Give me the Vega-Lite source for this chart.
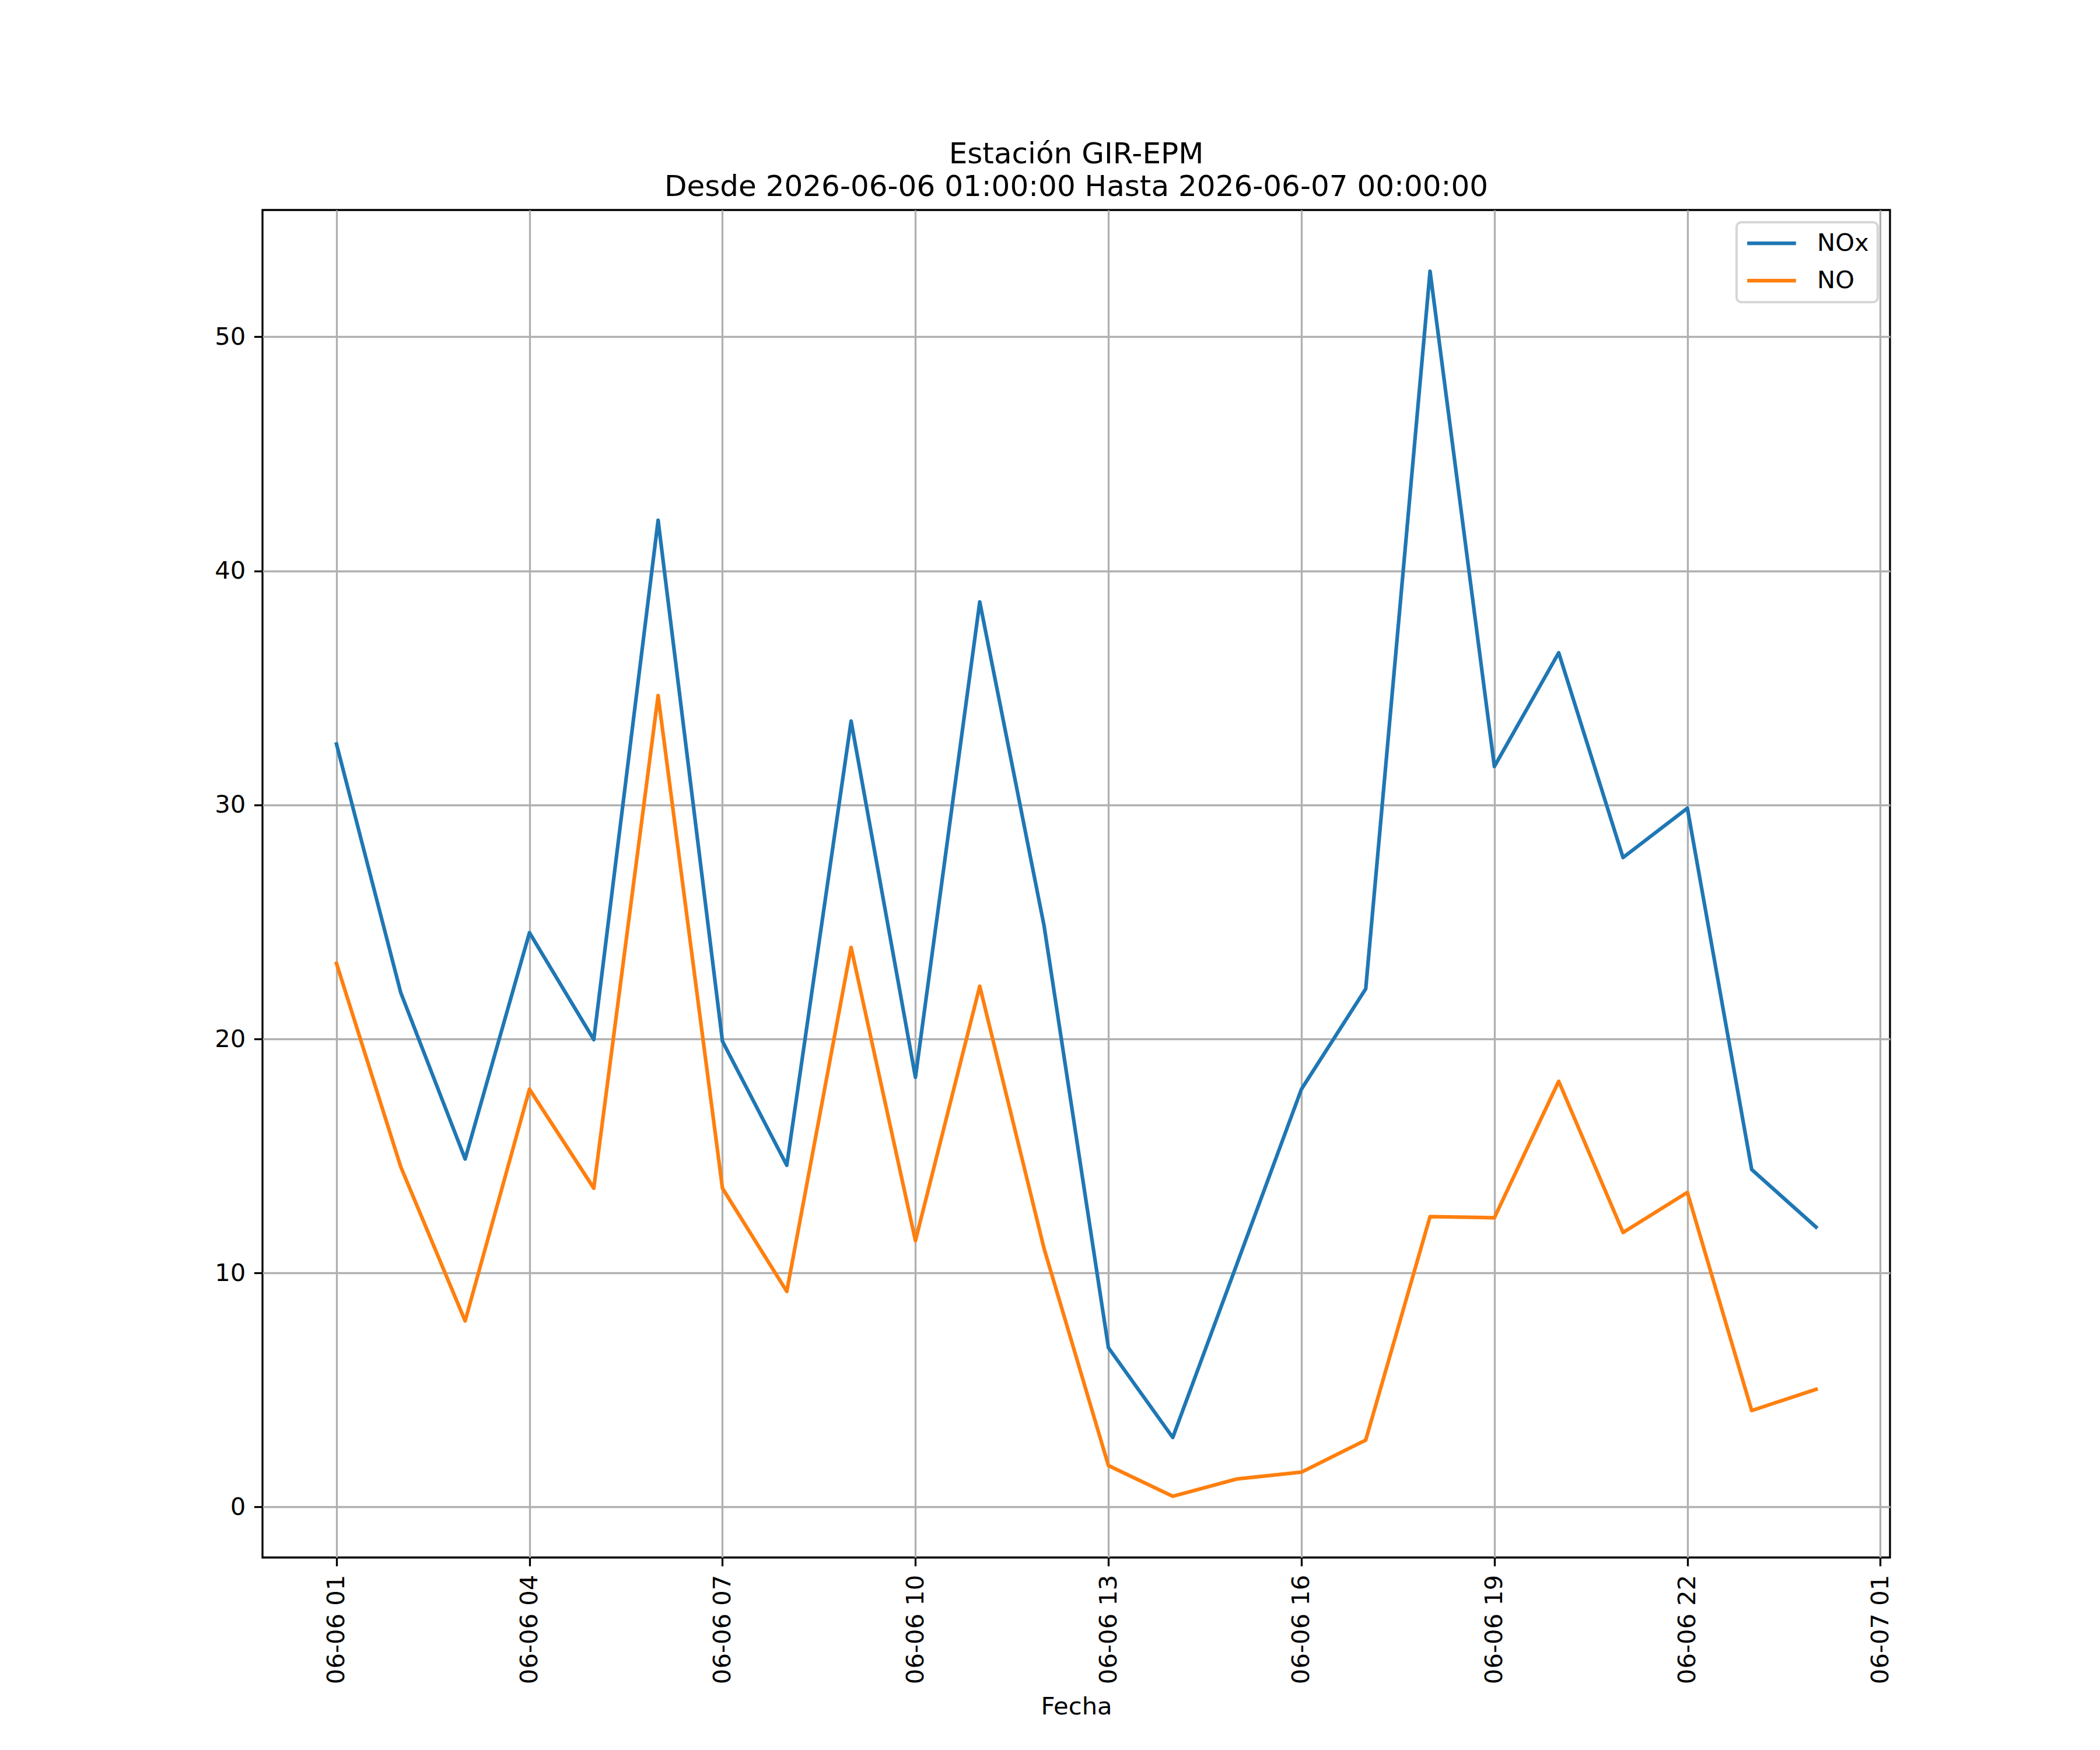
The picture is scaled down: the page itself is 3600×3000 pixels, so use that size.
{
  "$schema": "https://vega.github.io/schema/vega-lite/v6.json",
  "width": 2790,
  "height": 2310,
  "autosize": {"type": "none"},
  "padding": {"left": 450, "top": 360, "right": 360, "bottom": 330},
  "background": "white",
  "title": {
    "text": ["Estación GIR-EPM", "Desde 2026-06-06 01:00:00 Hasta 2026-06-07 00:00:00"],
    "font": "DejaVu Sans",
    "fontSize": 50,
    "fontWeight": "normal",
    "color": "black",
    "anchor": "middle",
    "frame": "group",
    "baseline": "bottom",
    "lineHeight": 56,
    "offset": -36
  },
  "config": {
    "font": "DejaVu Sans",
    "view": {"stroke": "black", "strokeWidth": 3.3},
    "axis": {
      "domain": false,
      "grid": true,
      "gridColor": "#b0b0b0",
      "gridWidth": 3.3,
      "gridOpacity": 1,
      "ticks": true,
      "tickColor": "black",
      "tickSize": 14.6,
      "tickWidth": 3.3,
      "labelFont": "DejaVu Sans",
      "labelFontSize": 41.7,
      "labelColor": "black",
      "labelPadding": 14.6,
      "labelLimit": 0,
      "titleFont": "DejaVu Sans",
      "titleFontSize": 41.7,
      "titleFontWeight": "normal",
      "titleColor": "black"
    },
    "legend": {
      "labelFont": "DejaVu Sans",
      "labelFontSize": 41.7,
      "labelColor": "black"
    }
  },
  "data": {
    "values": [
      {"t": "2026-06-06T01:00:00Z", "serie": "NOx", "valor": 32.6},
      {"t": "2026-06-06T02:00:00Z", "serie": "NOx", "valor": 21.97},
      {"t": "2026-06-06T03:00:00Z", "serie": "NOx", "valor": 14.87},
      {"t": "2026-06-06T04:00:00Z", "serie": "NOx", "valor": 24.54},
      {"t": "2026-06-06T05:00:00Z", "serie": "NOx", "valor": 19.97},
      {"t": "2026-06-06T06:00:00Z", "serie": "NOx", "valor": 42.16},
      {"t": "2026-06-06T07:00:00Z", "serie": "NOx", "valor": 19.9},
      {"t": "2026-06-06T08:00:00Z", "serie": "NOx", "valor": 14.6},
      {"t": "2026-06-06T09:00:00Z", "serie": "NOx", "valor": 33.58},
      {"t": "2026-06-06T10:00:00Z", "serie": "NOx", "valor": 18.36},
      {"t": "2026-06-06T11:00:00Z", "serie": "NOx", "valor": 38.67},
      {"t": "2026-06-06T12:00:00Z", "serie": "NOx", "valor": 24.83},
      {"t": "2026-06-06T13:00:00Z", "serie": "NOx", "valor": 6.81},
      {"t": "2026-06-06T14:00:00Z", "serie": "NOx", "valor": 2.97},
      {"t": "2026-06-06T15:00:00Z", "serie": "NOx", "valor": 10.4},
      {"t": "2026-06-06T16:00:00Z", "serie": "NOx", "valor": 17.85},
      {"t": "2026-06-06T17:00:00Z", "serie": "NOx", "valor": 22.14},
      {"t": "2026-06-06T18:00:00Z", "serie": "NOx", "valor": 52.8},
      {"t": "2026-06-06T19:00:00Z", "serie": "NOx", "valor": 31.64},
      {"t": "2026-06-06T20:00:00Z", "serie": "NOx", "valor": 36.5},
      {"t": "2026-06-06T21:00:00Z", "serie": "NOx", "valor": 27.75},
      {"t": "2026-06-06T22:00:00Z", "serie": "NOx", "valor": 29.86},
      {"t": "2026-06-06T23:00:00Z", "serie": "NOx", "valor": 14.42},
      {"t": "2026-06-07T00:00:00Z", "serie": "NOx", "valor": 11.96},
      {"t": "2026-06-06T01:00:00Z", "serie": "NO", "valor": 23.23},
      {"t": "2026-06-06T02:00:00Z", "serie": "NO", "valor": 14.53},
      {"t": "2026-06-06T03:00:00Z", "serie": "NO", "valor": 7.95},
      {"t": "2026-06-06T04:00:00Z", "serie": "NO", "valor": 17.85},
      {"t": "2026-06-06T05:00:00Z", "serie": "NO", "valor": 13.62},
      {"t": "2026-06-06T06:00:00Z", "serie": "NO", "valor": 34.67},
      {"t": "2026-06-06T07:00:00Z", "serie": "NO", "valor": 13.62},
      {"t": "2026-06-06T08:00:00Z", "serie": "NO", "valor": 9.21},
      {"t": "2026-06-06T09:00:00Z", "serie": "NO", "valor": 23.91},
      {"t": "2026-06-06T10:00:00Z", "serie": "NO", "valor": 11.38},
      {"t": "2026-06-06T11:00:00Z", "serie": "NO", "valor": 22.25},
      {"t": "2026-06-06T12:00:00Z", "serie": "NO", "valor": 11.04},
      {"t": "2026-06-06T13:00:00Z", "serie": "NO", "valor": 1.77},
      {"t": "2026-06-06T14:00:00Z", "serie": "NO", "valor": 0.46},
      {"t": "2026-06-06T15:00:00Z", "serie": "NO", "valor": 1.2},
      {"t": "2026-06-06T16:00:00Z", "serie": "NO", "valor": 1.49},
      {"t": "2026-06-06T17:00:00Z", "serie": "NO", "valor": 2.86},
      {"t": "2026-06-06T18:00:00Z", "serie": "NO", "valor": 12.41},
      {"t": "2026-06-06T19:00:00Z", "serie": "NO", "valor": 12.36},
      {"t": "2026-06-06T20:00:00Z", "serie": "NO", "valor": 18.19},
      {"t": "2026-06-06T21:00:00Z", "serie": "NO", "valor": 11.73},
      {"t": "2026-06-06T22:00:00Z", "serie": "NO", "valor": 13.44},
      {"t": "2026-06-06T23:00:00Z", "serie": "NO", "valor": 4.12},
      {"t": "2026-06-07T00:00:00Z", "serie": "NO", "valor": 5.03}
    ]
  },
  "mark": {"type": "line", "strokeWidth": 6.25, "strokeJoin": "round", "strokeCap": "square"},
  "encoding": {
    "x": {
      "field": "t",
      "type": "temporal",
      "scale": {
        "type": "utc",
        "domain": [
          {"year": 2026, "month": 6, "date": 5, "hours": 23, "minutes": 51, "utc": true},
          {"year": 2026, "month": 6, "date": 7, "hours": 1, "minutes": 9, "utc": true}
        ],
        "nice": false
      },
      "axis": {
        "title": "Fecha",
        "titlePadding": 35,
        "format": "%m-%d %H",
        "labelAngle": -90,
        "labelAlign": "right",
        "labelBaseline": "middle",
        "labelFlush": false,
        "labelOverlap": false,
        "labelLimit": 0,
        "values": [
          {"year": 2026, "month": 6, "date": 6, "hours": 1, "utc": true},
          {"year": 2026, "month": 6, "date": 6, "hours": 4, "utc": true},
          {"year": 2026, "month": 6, "date": 6, "hours": 7, "utc": true},
          {"year": 2026, "month": 6, "date": 6, "hours": 10, "utc": true},
          {"year": 2026, "month": 6, "date": 6, "hours": 13, "utc": true},
          {"year": 2026, "month": 6, "date": 6, "hours": 16, "utc": true},
          {"year": 2026, "month": 6, "date": 6, "hours": 19, "utc": true},
          {"year": 2026, "month": 6, "date": 6, "hours": 22, "utc": true},
          {"year": 2026, "month": 6, "date": 7, "hours": 1, "utc": true}
        ]
      }
    },
    "y": {
      "field": "valor",
      "type": "quantitative",
      "scale": {"domain": [-2.157, 55.417], "nice": false, "zero": false},
      "axis": {
        "title": null,
        "values": [0, 10, 20, 30, 40, 50],
        "format": "d",
        "labelFlush": false
      }
    },
    "color": {
      "field": "serie",
      "type": "nominal",
      "scale": {"domain": ["NOx", "NO"], "range": ["#1f77b4", "#ff7f0e"]},
      "legend": {
        "title": null,
        "orient": "top-right",
        "offset": 21,
        "fillColor": "white",
        "strokeColor": "#d6d6d6",
        "cornerRadius": 8,
        "padding": 15,
        "symbolType": "stroke",
        "symbolSize": 7000,
        "symbolStrokeWidth": 6.25,
        "labelOffset": 33,
        "rowPadding": 21,
        "clipHeight": 42,
        "encode": {
          "legend": {"update": {"strokeWidth": {"value": 4}}}
        }
      }
    }
  }
}
